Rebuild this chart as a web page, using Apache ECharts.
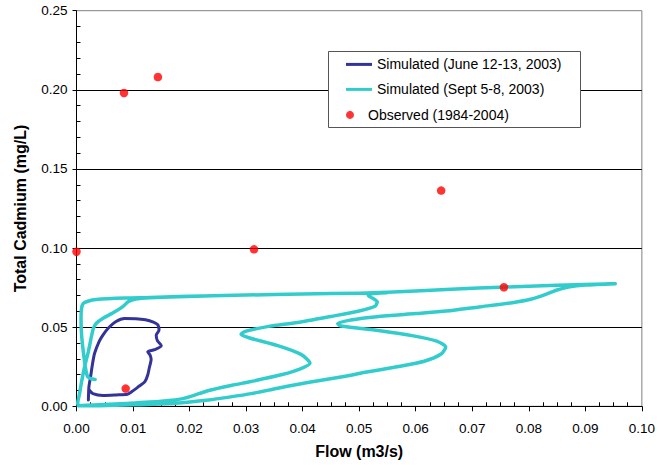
<!DOCTYPE html>
<html><head><meta charset="utf-8">
<script src="https://cdn.jsdelivr.net/npm/echarts@6/dist/echarts.min.js"></script>
<style>html,body{margin:0;padding:0;background:#fff}#c{width:658px;height:465px}</style>
</head><body><div id="c"></div>
<script>
// ---- data (flow m3/s, total cadmium mg/L) ----
const juneFlow = [0.00225,0.0029,0.0047,0.0070,0.0090,0.0098,0.0111,0.0121,0.0126,0.0129,0.0132,0.0130,0.0126,0.0138,0.0150,0.0143,0.0141,0.0146,0.0144,0.0136,0.0122,0.0105,0.0085,0.0070,0.0056,0.0047,0.0040,0.0032,0.0028,0.0025,0.0022,0.0021];
const juneConc = [0.0103,0.0080,0.0069,0.0072,0.0076,0.0093,0.0128,0.0156,0.0198,0.0247,0.0295,0.0325,0.0345,0.0358,0.0383,0.0415,0.0450,0.0482,0.0515,0.0532,0.0547,0.0554,0.0555,0.0536,0.0493,0.0451,0.0409,0.0335,0.0261,0.0188,0.0124,0.0040];

const septFlow = [0.0033,0.0026,0.0020,0.0016,0.0012,0.0009,0.0008,0.0009,0.0012,0.0020,0.0035,0.0087,0.0130,0.0181,0.0300,0.0400,0.0500,0.0600,0.0672,0.0750,0.0850,0.0953,
  0.0900,0.0870,0.0850,0.0830,0.0805,0.0771,0.0712,0.0654,0.0600,0.0531,0.0485,0.0462,0.0468,0.0537,0.0596,0.0637,0.0653,0.0645,0.0615,0.0567,0.0508,0.0473,0.0409,0.0356,0.0309,0.0270,0.0234,0.0175,0.0100,0.0040,0.0005,
  0.0002,0.0005,0.0009,0.0015,0.0021,0.0027,0.0030,0.0035,0.0047,0.0064,0.0082,0.0092,0.0105,0.0130,0.0181,0.0300,0.0400,0.0500,0.0549,
  0.0520,0.0516,0.0524,0.0532,0.0528,0.0500,0.0450,0.0391,0.0340,0.0300,0.0291,0.0305,0.0356,0.0397,0.0413,0.0395,0.0362,0.0309,0.0275,0.0234,0.0190,0.0150,0.0087,0.0030,0.0003];
const septConc = [0.0170,0.0174,0.0185,0.0240,0.0346,0.0451,0.0557,0.0620,0.0650,0.0664,0.0675,0.0684,0.0687,0.0694,0.0703,0.0710,0.0715,0.0729,0.0742,0.0753,0.0765,0.0775,
  0.0766,0.0753,0.0735,0.0707,0.0678,0.0655,0.0628,0.0602,0.0586,0.0566,0.0545,0.0524,0.0507,0.0477,0.0445,0.0412,0.0375,0.0330,0.0285,0.0250,0.0213,0.0188,0.0150,0.0114,0.0080,0.0058,0.0040,0.0020,0.0009,0.0004,0.0003,
  0.0019,0.0072,0.0156,0.0261,0.0346,0.0451,0.0494,0.0525,0.0557,0.0589,0.0630,0.0662,0.0678,0.0686,0.0693,0.0703,0.0710,0.0715,0.0718,
  0.0711,0.0700,0.0683,0.0660,0.0632,0.0602,0.0568,0.0530,0.0505,0.0475,0.0455,0.0433,0.0383,0.0328,0.0272,0.0235,0.0199,0.0157,0.0133,0.0100,0.0050,0.0032,0.0018,0.0008,0.0004];

const obsFlow = [0.0000,0.0084,0.0144,0.0314,0.0645,0.0756,0.0087];
const obsConc = [0.0977,0.1980,0.2081,0.0992,0.1363,0.0752,0.0112];

const seriesNames = ['Simulated (June 12-13, 2003)','Simulated (Sept 5-8, 2003)','Observed (1984-2004)'];
const xTickStep = 0.01, xMin = 0, xMax = 0.10;
const yTickStep = 0.05, yMin = 0, yMax = 0.25;

// ---- chart ----
const FONT = '"Liberation Sans", Arial, Helvetica, sans-serif';
const zip = (a, b) => a.map((v, i) => [v, b[i]]);
const chart = echarts.init(document.getElementById('c'), null, {renderer: 'svg'});
const fmt = v => v.toFixed(2);
const lblStyle = {color: '#000', fontFamily: FONT, fontSize: 13.5};
const nameStyle = {color: '#000', fontFamily: FONT, fontSize: 16, fontWeight: 'bold'};
const legendText = {color: '#000', fontFamily: FONT, fontSize: 14};

chart.setOption({
  animation: false,
  backgroundColor: '#fff',
  grid: {left: 76.5, right: 10.4, top: 10.7, bottom: 58.7, show: true, borderColor: '#808080', borderWidth: 1},
  xAxis: [{
    type: 'value', min: xMin, max: xMax, interval: xTickStep, position: 'bottom', z: 1,
    axisLine: {show: true, onZero: false, lineStyle: {color: '#000', width: 1}},
    axisTick: {show: true, inside: false, length: 5, lineStyle: {color: '#000'}},
    axisLabel: Object.assign({margin: 15, formatter: fmt}, lblStyle),
    splitLine: {show: false},
    name: 'Flow (m3/s)', nameLocation: 'middle', nameGap: 37, nameTextStyle: nameStyle
  }, {
    type: 'value', min: xMin, max: xMax, interval: xTickStep, position: 'bottom', z: 1,
    axisLine: {show: false}, axisLabel: {show: false},
    axisTick: {show: false, inside: true},
    minorTick: {show: true, splitNumber: 4, length: 4, lineStyle: {color: '#000', width: 1}},
    splitLine: {show: false}
  }],
  yAxis: [{
    type: 'value', min: yMin, max: yMax, interval: yTickStep, position: 'left', z: 1,
    axisLine: {show: true, onZero: false, lineStyle: {color: '#000', width: 1}},
    axisTick: {show: true, inside: false, length: 4, lineStyle: {color: '#000'}},
    axisLabel: Object.assign({margin: 9, formatter: fmt}, lblStyle),
    splitLine: {show: true, showMinLine: false, showMaxLine: false, lineStyle: {color: '#000', width: 1}},
    name: 'Total Cadmium (mg/L)', nameLocation: 'middle', nameGap: 48, nameTextStyle: nameStyle
  }, {
    type: 'value', min: yMin, max: yMax, interval: yTickStep, position: 'left', z: 1,
    axisLine: {show: false}, axisLabel: {show: false},
    axisTick: {show: false, inside: true},
    minorTick: {show: true, splitNumber: 5, length: 4, lineStyle: {color: '#000', width: 1}},
    splitLine: {show: false}
  }],
  legend: [{
    data: [{name: seriesNames[0], icon: 'rect'}, {name: seriesNames[1], icon: 'rect'}],
    orient: 'vertical', left: 346, top: 57.4, itemWidth: 26, itemHeight: 3, itemGap: 11,
    padding: 0, textStyle: legendText, selectedMode: false, z: 100
  }, {
    data: [{name: seriesNames[2], icon: 'circle'}],
    orient: 'vertical', left: 346, top: 107.9, itemWidth: 26, itemHeight: 8,
    padding: 0, textStyle: legendText, selectedMode: false, z: 100
  }],
  graphic: [{
    type: 'rect', z: 50,
    shape: {x: 328.5, y: 51.5, width: 252, height: 76},
    style: {fill: '#fff', stroke: '#555', lineWidth: 1}
  }],
  series: [{
    name: seriesNames[0], type: 'line', data: zip(juneFlow, juneConc),
    showSymbol: false, symbol: 'none', smooth: 0.25, z: 2,
    itemStyle: {color: '#333399'},
    lineStyle: {color: '#333399', width: 3, cap: 'round', join: 'round'}
  }, {
    name: seriesNames[1], type: 'line', data: zip(septFlow, septConc),
    showSymbol: false, symbol: 'none', smooth: 0.25, z: 3,
    itemStyle: {color: '#33CCCC'},
    lineStyle: {color: '#33CCCC', width: 3.5, cap: 'round', join: 'round'}
  }, {
    name: seriesNames[2], type: 'scatter', data: zip(obsFlow, obsConc),
    symbol: 'circle', symbolSize: 8.5, z: 4, clip: false,
    itemStyle: {color: '#FF0000'}
  }]
});
</script></body></html>
